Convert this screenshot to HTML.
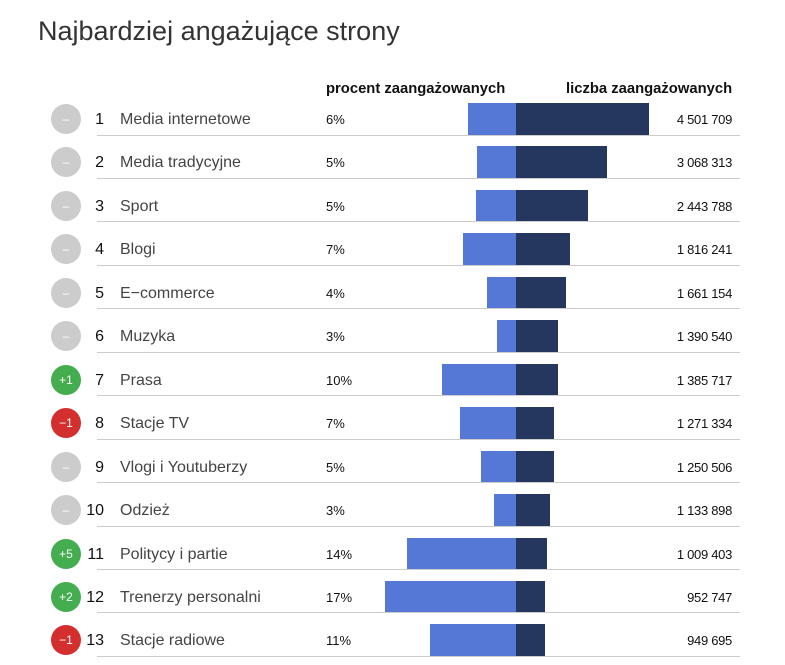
<!DOCTYPE html>
<html><head><meta charset="utf-8"><style>
body{margin:0;width:785px;height:665px;background:#fff;font-family:"Liberation Sans",sans-serif;position:relative;overflow:hidden}
.a{position:absolute;white-space:nowrap}
.t{left:38px;top:16px;font-size:27px;color:#333}
.h{top:81px;font-size:14.8px;font-weight:bold;color:#111}
.c{width:30px;height:30px;border-radius:50%;color:#fff;font-size:12px;text-align:center;line-height:30px;left:51px}
.n{font-size:16px;color:#111;width:26px;text-align:right;left:78px}
.l{font-size:16px;color:#444;left:120px}
.p{font-size:13px;color:#111;left:326px}
.v{font-size:13px;color:#111;right:53px;letter-spacing:-0.3px}
.s{left:97px;width:643px;height:1px;background:#ccc}
.b1{background:#5578d6;height:32px}
.b2{background:#25365f;height:32px}
</style></head><body>
<div class="a t">Najbardziej angażujące strony</div>
<div class="a h" style="left:326px">procent zaangażowanych</div>
<div class="a h" style="left:566px">liczba zaangażowanych</div>
<div id="r"></div>
<script>
var d=[["–","#ccc","Media internetowe","6%",468,649,"4 501 709"],
["–","#ccc","Media tradycyjne","5%",477,607,"3 068 313"],
["–","#ccc","Sport","5%",476,588,"2 443 788"],
["–","#ccc","Blogi","7%",463,570,"1 816 241"],
["–","#ccc","E−commerce","4%",487,566,"1 661 154"],
["–","#ccc","Muzyka","3%",497,558,"1 390 540"],
["+1","#43ad4f","Prasa","10%",442,558,"1 385 717"],
["−1","#d32f2f","Stacje TV","7%",460,554,"1 271 334"],
["–","#ccc","Vlogi i Youtuberzy","5%",481,554,"1 250 506"],
["–","#ccc","Odzież","3%",494,550,"1 133 898"],
["+5","#43ad4f","Politycy i partie","14%",407,547,"1 009 403"],
["+2","#43ad4f","Trenerzy personalni","17%",385,545,"952 747"],
["−1","#d32f2f","Stacje radiowe","11%",430,545,"949 695"]];
var h="";
d.forEach(function(r,i){var y=119+i*43.45;
h+='<div class="a c" style="top:'+(y-15)+'px;background:'+r[1]+'">'+r[0]+'</div>';
h+='<div class="a n" style="top:'+(y-8)+'px">'+(i+1)+'</div>';
h+='<div class="a l" style="top:'+(y-8)+'px">'+r[2]+'</div>';
h+='<div class="a p" style="top:'+(y-7)+'px">'+r[3]+'</div>';
h+='<div class="a b1" style="top:'+(y-16)+'px;left:'+r[4]+'px;width:'+(516-r[4])+'px"></div>';
h+='<div class="a b2" style="top:'+(y-16)+'px;left:516px;width:'+(r[5]-516)+'px"></div>';
h+='<div class="a v" style="top:'+(y-7)+'px">'+r[6]+'</div>';
h+='<div class="a s" style="top:'+(y+15.5)+'px"></div>';});
document.getElementById("r").innerHTML=h;
</script>
</body></html>
